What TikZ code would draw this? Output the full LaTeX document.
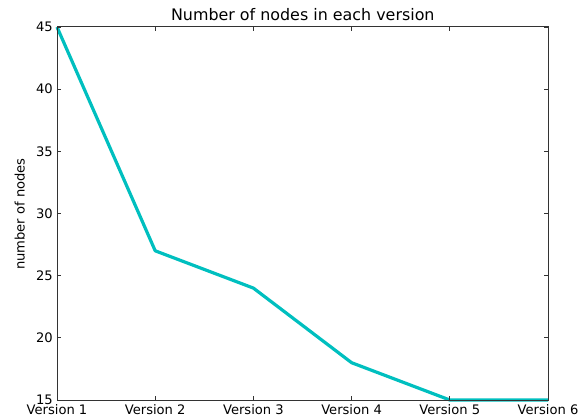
\documentclass[tikz,border=0pt]{standalone}
\usepackage{fontspec}
\setmainfont{DejaVu Sans}
\begin{document}
\begin{tikzpicture}[x=1pt,y=-1pt,
  frame/.style={draw=black!80,line width=1pt},
  tick/.style={draw=black!80,line width=0.8pt},
  series/.style={draw={rgb,255:red,0;green,191;blue,191},line width=3.2pt,line join=round},
  lbl/.style={font=\fontsize{13.1}{15}\selectfont,inner sep=0pt},
  titlelbl/.style={font=\fontsize{15.9}{18}\selectfont,inner sep=0pt}]
\useasboundingbox (0,0) rectangle (587,417);
% axes corners
\coordinate (ll) at (57,400);
\coordinate (ur) at (548,27);
% data line
\draw[series] (57,27) -- (155.2,250.8) -- (253.4,288.1) -- (351.6,362.7) -- (449.8,400) -- (548,400);
\draw[frame] (ll) rectangle (ur);
% y ticks (inward, both sides) and labels
\foreach \v in {15,20,...,45}{
  \pgfmathsetmacro{\yy}{400-(\v-15)*12.433}
  \draw[tick] (57,\yy) -- ++(4,0);
  \draw[tick] (548,\yy) -- ++(-4,0);
  \node[lbl,anchor=east] (y\v) at (53,\yy) {\v};
}
% x ticks and labels
\foreach \i in {1,...,6}{
  \pgfmathsetmacro{\xx}{57+(\i-1)*98.2}
  \draw[tick] (\xx,400) -- ++(0,-4);
  \draw[tick] (\xx,27) -- ++(0,4);
  \node[lbl,anchor=north] (x\i) at (\xx,404.5) {Version \i};
}
\node[titlelbl,anchor=base] (title) at (302.8,20.7) {Number of nodes in each version};
\node[lbl,rotate=90,anchor=base] (ylab) at (24.5,214) {number of nodes};
\end{tikzpicture}
\end{document}
